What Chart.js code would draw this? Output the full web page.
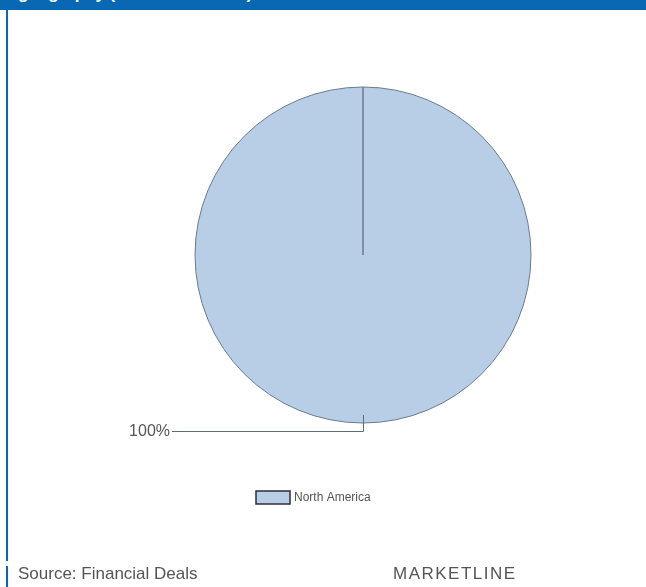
<!DOCTYPE html>
<html>
<head>
<meta charset="utf-8">
<script src="https://cdn.jsdelivr.net/npm/chart.js@4.4.1/dist/chart.umd.min.js"></script>
<style>
  html, body { margin: 0; padding: 0; background: #ffffff; }
  body { width: 646px; height: 587px; position: relative; overflow: hidden; font-family: "Liberation Sans", Arial, sans-serif; }
  #header { position: absolute; left: 0; top: 0; width: 646px; height: 10px; background: #0868b4; overflow: hidden; }
  #header span { position: absolute; left: 18px; top: -15px; font: bold 17px/17px "Liberation Sans", Arial, sans-serif; color: #ffffff; white-space: nowrap; }
  .vline { position: absolute; left: 6px; width: 2px; background: #0868b4; }
  #wrap { position: absolute; left: 80px; top: 10px; width: 566px; height: 560px; }
  .foot { position: absolute; top: 564px; font: 17px/19px "Liberation Sans", Arial, sans-serif; color: #555555; white-space: nowrap; }
</style>
</head>
<body>
<div id="header"><span>geography (number of deals)</span></div>
<div class="vline" style="top:10px;height:551px;"></div>
<div class="vline" style="top:566px;height:21px;"></div>
<div id="wrap"><canvas id="c"></canvas></div>
<div class="foot" style="left:18px;">Source: Financial Deals</div>
<div class="foot" style="left:393px;letter-spacing:1.5px;">MARKETLINE</div>
<script>
const categories = ["North America"];
const shareValues = [100];

const fillColor = "#b8cee6";
const edgeColor = "#6a7a8c";

const pieLabels = {
  id: "pieLabels",
  afterDatasetsDraw(chart) {
    const ctx = chart.ctx;
    const meta = chart.getDatasetMeta(0);
    const data = chart.data.datasets[0].data;
    const total = data.reduce((a, b) => a + b, 0);
    meta.data.forEach((arc, i) => {
      const p = arc.getProps(["x", "y", "outerRadius", "startAngle", "endAngle"], true);
      const mid = (p.startAngle + p.endAngle) / 2;
      const bx = p.x + Math.cos(mid) * p.outerRadius;
      const by = p.y + Math.sin(mid) * p.outerRadius;
      const yl = by + 8;
      const xe = bx - 191;
      ctx.save();
      ctx.strokeStyle = "#5e6d7e";
      ctx.lineWidth = 1;
      ctx.beginPath();
      ctx.moveTo(bx + 0.5, by - 8);
      ctx.lineTo(bx + 0.5, yl + 0.5);
      ctx.lineTo(xe, yl + 0.5);
      ctx.stroke();
      ctx.fillStyle = "#555555";
      ctx.font = '16px "Liberation Sans", Arial, sans-serif';
      ctx.textAlign = "right";
      ctx.textBaseline = "middle";
      ctx.fillText(Math.round(data[i] / total * 100) + "%", xe - 2, yl + 1);
      ctx.restore();
    });
  }
};

const customLegend = {
  id: "customLegend",
  afterDraw(chart) {
    const ctx = chart.ctx;
    const ca = chart.chartArea;
    const cx = (ca.left + ca.right) / 2;
    const ds = chart.data.datasets[0];
    let x = cx - 107;
    const y = ca.bottom + 68;
    ctx.save();
    chart.data.labels.forEach((lab, i) => {
      ctx.fillStyle = ds.backgroundColor[i];
      ctx.fillRect(x, y, 34, 13);
      ctx.strokeStyle = "#2b2f35";
      ctx.lineWidth = 1.5;
      ctx.strokeRect(x, y, 34, 13);
      ctx.fillStyle = "#555555";
      ctx.font = '12px "Liberation Sans", Arial, sans-serif';
      ctx.textAlign = "left";
      ctx.textBaseline = "middle";
      ctx.fillText(lab, x + 38, y + 7);
    });
    ctx.restore();
  }
};

new Chart(document.getElementById("c"), {
  type: "pie",
  data: {
    labels: categories,
    datasets: [{
      data: shareValues,
      backgroundColor: [fillColor],
      borderColor: edgeColor,
      borderWidth: 1,
      hoverOffset: 0
    }]
  },
  options: {
    responsive: true,
    maintainAspectRatio: false,
    animation: false,
    radius: 168,
    layout: { padding: { top: 77, bottom: 147, left: 0, right: 0 } },
    plugins: {
      legend: { display: false },
      tooltip: { enabled: false }
    }
  },
  plugins: [pieLabels, customLegend]
});
</script>
</body>
</html>
